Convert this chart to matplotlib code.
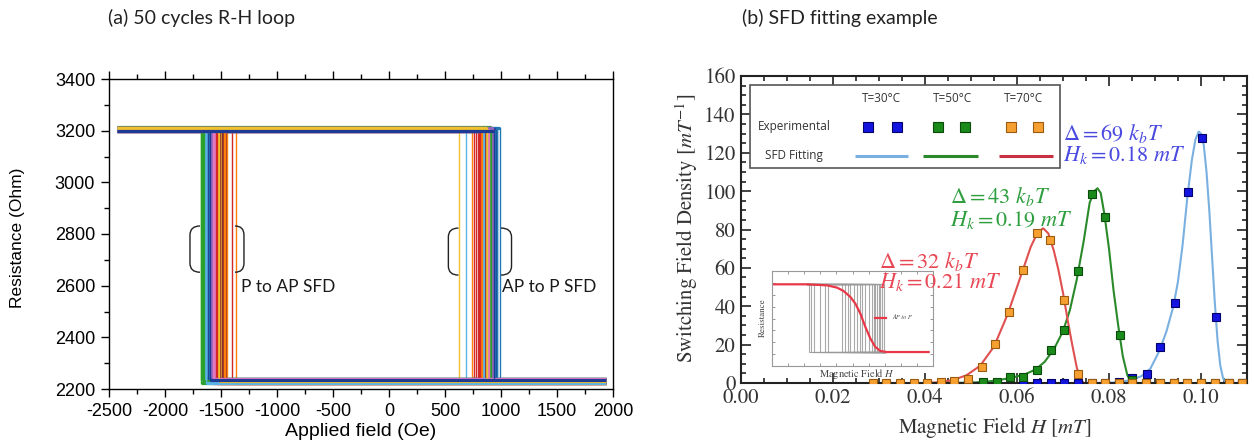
import numpy as np
import matplotlib
matplotlib.use('Agg')
import matplotlib.pyplot as plt
from matplotlib.path import Path
from matplotlib.patches import PathPatch, Rectangle
from matplotlib.ticker import MultipleLocator, FormatStrFormatter

plt.rcParams['mathtext.fontset'] = 'stix'
plt.rcParams['axes.unicode_minus'] = False

# ---------------- (a) R-H loop data (50 cycles) ----------------
neg_switch = [-1612, -1366, -1668, -1402, -1583, -1455, -1540, -1625, -1510, -1598,
              -1640, -1470, -1683, -1560, -1605, -1490, -1575, -1650, -1530, -1620,
              -1595, -1445, -1662, -1520, -1590, -1480, -1550, -1635, -1500, -1610,
              -1602, -1460, -1675, -1545, -1585, -1495, -1565, -1645, -1525, -1615,
              -1608, -1475, -1655, -1535, -1580, -1505, -1570, -1630, -1515, -1600]
pos_switch = [995, 740, 905, 762, 930, 870, 885, 690, 621, 955,
              960, 800, 915, 780, 940, 860, 895, 835, 925, 850,
              945, 815, 910, 795, 935, 865, 890, 845, 880, 950,
              965, 825, 900, 805, 920, 875, 888, 840, 870, 948,
              942, 830, 912, 812, 928, 858, 892, 848, 878, 938]
r_high = [3209, 3202, 3211, 3199, 3206, 3212, 3203, 3210, 3198, 3206,
          3208, 3201, 3213, 3204, 3197, 3207, 3210, 3202, 3205, 3211,
          3199, 3209, 3203, 3212, 3198, 3208, 3206, 3201, 3210, 3204,
          3211, 3202, 3207, 3197, 3209, 3205, 3200, 3212, 3203, 3208,
          3199, 3210, 3206, 3201, 3211, 3204, 3202, 3207, 3209, 3200]
r_low = [2231, 2224, 2236, 2227, 2233, 2238, 2226, 2232, 2223, 2230,
         2234, 2228, 2237, 2225, 2231, 2235, 2222, 2229, 2236, 2227,
         2233, 2224, 2238, 2230, 2226, 2234, 2228, 2232, 2223, 2237,
         2229, 2235, 2225, 2231, 2227, 2236, 2224, 2233, 2230, 2226,
         2238, 2228, 2232, 2225, 2234, 2229, 2237, 2223, 2231, 2235]
field_min, field_max = -2430, 1935
loop_colors = ['#1f77b4', '#ff7f0e', '#2ca02c', '#d62728', '#9467bd',
               '#8c2d2d', '#e377c2', '#5ab4e6', '#f2c12e', '#1f3a93']

# ---------------- (b) SFD data ----------------
b30_x = [0.0614, 0.0643, 0.0674, 0.0703, 0.0732, 0.0762, 0.0791, 0.0822, 0.0851,
         0.0882, 0.0911, 0.0943, 0.0971, 0.1003, 0.1032, 0.1060, 0.1089]
b30_y = [0, 0, 0, 0, 0, 0, 0, 0.5, 2.4, 4.7, 18.9, 41.5, 99.7, 127.5, 34.2, 0, 0]
g50_x = [0.0494, 0.0525, 0.0556, 0.0585, 0.0614, 0.0643, 0.0674, 0.0703, 0.0732,
         0.0762, 0.0791, 0.0824, 0.0851, 0.0881, 0.0911, 0.0941, 0.0970, 0.1000,
         0.1030, 0.1060, 0.1089]
g50_y = [0, 0.7, 0.7, 3.0, 3.3, 6.8, 17.2, 27.6, 58.5, 98.3, 86.7, 25.0, 1.5,
         0, 0, 0, 0, 0, 0, 0, 0]
o70_x = [0.0287, 0.0316, 0.0346, 0.0376, 0.0405, 0.0435, 0.0464, 0.0494, 0.0523,
         0.0552, 0.0583, 0.0612, 0.0644, 0.0672, 0.0703, 0.0733, 0.0763, 0.0792,
         0.0822, 0.0851, 0.0881, 0.0911, 0.0941, 0.0970, 0.1000, 0.1030, 0.1060,
         0.1089]
o70_y = [0, 0, 0, 0, 0.1, 0.3, 0.8, 1.9, 8.2, 20.3, 37.2, 58.9, 78.0, 74.5, 43.2,
         4.7, 0, 0, 0, 0, 0, 0, 0, 0, 0, 0, 0, 0]

fit30_x = [0.0780, 0.0810, 0.0830, 0.0850, 0.0870, 0.0890, 0.0910, 0.0925, 0.0940,
           0.0950, 0.0960, 0.0970, 0.0980, 0.0988, 0.0995, 0.1000, 0.1006, 0.1012,
           0.1018, 0.1024, 0.1030, 0.1036, 0.1042, 0.1048, 0.1053, 0.1060, 0.1100]
fit30_y = [0, 0.2, 0.7, 1.8, 3.5, 7.5, 17, 27, 40, 53, 72, 96, 116, 127, 131, 130,
           124, 110, 90, 66, 42, 22, 9, 2.5, 0.3, 0, 0]
fit50_x = [0.045, 0.050, 0.053, 0.056, 0.059, 0.062, 0.064, 0.066, 0.068, 0.070,
           0.0715, 0.073, 0.0745, 0.0758, 0.0768, 0.0775, 0.0782, 0.079, 0.080,
           0.081, 0.082, 0.083, 0.084, 0.0848, 0.0855, 0.090]
fit50_y = [0, 0.2, 0.6, 1.5, 2.8, 4.8, 7, 11, 17.5, 27, 38, 54, 74, 94, 100, 101.5,
           99, 88, 70, 48, 30, 14, 4, 0.6, 0, 0]
fit70_x = [0.040, 0.043, 0.046, 0.049, 0.052, 0.055, 0.058, 0.061, 0.063, 0.0645,
           0.0657, 0.0668, 0.068, 0.069, 0.070, 0.071, 0.072, 0.073, 0.0738, 0.0745,
           0.080]
fit70_y = [0, 0.4, 1.5, 4, 9, 19, 36, 57, 71, 78.5, 80.6, 78, 69, 59, 47, 33, 20, 8,
           2, 0, 0]

# inset (arbitrary units)
inset_switch = [2.28, 2.42, 2.59, 3.0, 3.31, 3.46, 4.35, 4.55, 4.7, 4.87, 5.07, 5.28,
                5.45, 5.59, 5.8, 6.0, 6.21, 6.31, 6.42, 6.52, 6.63, 6.73, 6.83, 6.94]
inset_fit_x = [0.1, 2.17, 3.42, 4.04, 4.45, 4.87, 5.18, 5.49, 5.8, 6.11, 6.42, 6.73,
               7.14, 9.73]
inset_fit_y = [0.86, 0.86, 0.849, 0.825, 0.789, 0.726, 0.656, 0.551, 0.411, 0.288,
               0.2, 0.158, 0.147, 0.147]

W, H = 1254, 446
fig = plt.figure(figsize=(W / 100, H / 100), dpi=100)


def fx(px):
    return px / W


def fy(py):
    return 1 - py / H


SANS = ['Liberation Sans', 'DejaVu Sans']
CAL = ['Lato', 'DejaVu Sans']
SERIF = ['STIXGeneral', 'DejaVu Serif']

# ======================= panel (a) =======================
ax1 = fig.add_axes([fx(109), fy(389), (613 - 109) / W, (389 - 79) / H])
for i in range(len(neg_switch)):
    c = loop_colors[i % len(loop_colors)]
    # vertical switching steps (thin)
    ax1.plot([neg_switch[i], neg_switch[i]], [r_low[i], r_high[i]], color=c, lw=1.0)
    ax1.plot([pos_switch[i], pos_switch[i]], [r_high[i], r_low[i]], color=c, lw=1.0)
    # noisy plateaus (thick band)
    ax1.plot([field_min, pos_switch[i]], [r_high[i], r_high[i]], color=c, lw=2.3,
             solid_capstyle='butt')
    ax1.plot([neg_switch[i], field_max], [r_low[i], r_low[i]], color=c, lw=2.3,
             solid_capstyle='butt')

ax1.set_xlim(-2500, 2000)
ax1.set_ylim(2200, 3400)
ax1.xaxis.set_major_locator(MultipleLocator(500))
ax1.xaxis.set_minor_locator(MultipleLocator(250))
ax1.yaxis.set_major_locator(MultipleLocator(200))
ax1.yaxis.set_minor_locator(MultipleLocator(100))
ax1.tick_params(which='both', direction='out', top=True, right=False,
                labeltop=False, width=1.0)
ax1.tick_params(which='major', length=6, pad=4, labelsize=13)
ax1.tick_params(which='minor', length=3.5)
for lab in ax1.get_xticklabels() + ax1.get_yticklabels():
    lab.set_family(SANS)
for s in ax1.spines.values():
    s.set_linewidth(1.0)


def bracket(ax, x_open, x_back, y_bot, y_top, ry):
    verts = [(x_open, y_top), (x_back, y_top), (x_back, y_top - ry),
             (x_back, y_bot + ry), (x_back, y_bot), (x_open, y_bot)]
    codes = [Path.MOVETO, Path.CURVE3, Path.CURVE3, Path.LINETO,
             Path.CURVE3, Path.CURVE3]
    ax.add_patch(PathPatch(Path(verts, codes), fill=False, lw=1.0,
                           edgecolor='#222222', zorder=5))


bracket(ax1, -1687, -1777, 2652, 2831, 35)
bracket(ax1, -1375, -1295, 2652, 2831, 35)
bracket(ax1, 620, 530, 2641, 2823, 35)
bracket(ax1, 1000, 1094, 2641, 2823, 35)

ax1.text(-1320, 2595, 'P to AP SFD', family=CAL, fontsize=12.5,
         ha='left', va='center', color='#1a1a1a')
ax1.text(1005, 2595, 'AP to P SFD', family=CAL, fontsize=12.5,
         ha='left', va='center', color='#1a1a1a')

fig.text(fx(18), fy(238), 'Resistance (Ohm)', rotation=90, ha='center',
         va='center', family=SANS, fontsize=12.5)
fig.text(fx(361), fy(431), 'Applied field (Oe)', ha='center', va='center',
         family=SANS, fontsize=14)
fig.text(fx(108), fy(18), '(a) 50 cycles R-H loop', ha='left', va='center',
         family=CAL, fontsize=14, color='#222222')
fig.text(fx(742), fy(18), '(b) SFD fitting example', ha='left', va='center',
         family=CAL, fontsize=14, color='#222222')

# ======================= panel (b) =======================
ax2 = fig.add_axes([fx(741), fy(383), (1247 - 741) / W, (383 - 76) / H])
ax2.set_zorder(2)
ax2.patch.set_alpha(0)
c_b_fit, c_g_fit, c_r_fit = '#7ab0e0', '#2a8a2a', '#e05050'
ax2.plot(fit30_x, fit30_y, color=c_b_fit, lw=1.5, zorder=2)
ax2.plot(fit50_x, fit50_y, color=c_g_fit, lw=1.5, zorder=2)
ax2.plot(fit70_x, fit70_y, color=c_r_fit, lw=1.5, zorder=2)
mk = dict(marker='s', ms=6, ls='none', mew=0.8, zorder=3)
ax2.plot(b30_x, b30_y, mfc='#1414e0', mec='#00006a', **mk)
ax2.plot(g50_x, g50_y, mfc='#1a8a1a', mec='#0a4a0a', **mk)
ax2.plot(o70_x, o70_y, mfc='#f5a030', mec='#9a5a10', **mk)

ax2.set_xlim(0, 0.11)
ax2.set_ylim(0, 160)
ax2.xaxis.set_major_locator(MultipleLocator(0.02))
ax2.xaxis.set_minor_locator(MultipleLocator(0.005))
ax2.yaxis.set_major_locator(MultipleLocator(20))
ax2.yaxis.set_minor_locator(MultipleLocator(5))
ax2.xaxis.set_major_formatter(FormatStrFormatter('%.2f'))
ax2.tick_params(which='both', direction='in', top=True, right=True, width=1.2,
                colors='#222222', labelcolor='#333333')
ax2.tick_params(which='major', length=7, pad=4, labelsize=15)
ax2.tick_params(which='minor', length=3.5)
for lab in ax2.get_xticklabels() + ax2.get_yticklabels():
    lab.set_family(SERIF)
for s in ax2.spines.values():
    s.set_linewidth(1.5)
    s.set_color('#222222')

ann = dict(fontsize=16, ha='left', va='center', family=SERIF, zorder=6)
ax2.text(0.0701, 130, r'$\Delta = 69\ k_bT$', color='#4a4ae0', **ann)
ax2.text(0.0701, 118.8, r'$H_k = 0.18\ mT$', color='#4a4ae0', **ann)
ax2.text(0.0454, 97, r'$\Delta = 43\ k_bT$', color='#2e9e3e', **ann)
ax2.text(0.0454, 85, r'$H_k = 0.19\ mT$', color='#2e9e3e', **ann)
ax2.text(0.0301, 63.2, r'$\Delta = 32\ k_bT$', color='#e84855', **ann)
ax2.text(0.0301, 52.8, r'$H_k = 0.21\ mT$', color='#e84855', **ann)

# manual legend box
T = ax2.transAxes
ax2.add_patch(Rectangle((0.018, 0.699), 0.612, 0.272, transform=T, fc='white',
                        ec='#555555', lw=1.2, zorder=5))
lg = dict(transform=T, fontsize=8.5, family=['Open Sans', 'DejaVu Sans'],
          color='#333333', zorder=6, va='center')
for xx, tt in [(0.277, 'T=30°C'), (0.417, 'T=50°C'), (0.559, 'T=70°C')]:
    ax2.text(xx, 0.927, tt, ha='center', **lg)
ax2.text(0.033, 0.835, 'Experimental', ha='left', **lg)
ax2.text(0.048, 0.740, 'SFD Fitting', ha='left', **lg)
lm = dict(marker='s', ms=7, ls='none', mew=0.8, transform=T, zorder=6,
          clip_on=False)
ax2.plot([0.250, 0.308], [0.835, 0.835], mfc='#1414e0', mec='#00006a', **lm)
ax2.plot([0.389, 0.442], [0.835, 0.835], mfc='#1a8a1a', mec='#0a4a0a', **lm)
ax2.plot([0.533, 0.587], [0.835, 0.835], mfc='#f5a030', mec='#9a5a10', **lm)
ll = dict(transform=T, zorder=6, lw=2.2, solid_capstyle='butt')
ax2.plot([0.225, 0.331], [0.740, 0.740], color=c_b_fit, **ll)
ax2.plot([0.360, 0.468], [0.740, 0.740], color=c_g_fit, **ll)
ax2.plot([0.510, 0.616], [0.740, 0.740], color='#c83040', **ll)

fig.text(fx(687), fy(228), r'Switching Field Density [$mT^{-1}$]', rotation=90,
         ha='center', va='center', family=SERIF, fontsize=15, color='#333333')
fig.text(fx(995), fy(427), r'Magnetic Field $H$ [$mT$]', ha='center',
         va='center', family=SERIF, fontsize=15, color='#333333')

# inset (drawn beneath the main panel's texts)
axi = fig.add_axes([fx(772), fy(366), (933 - 772) / W, (366 - 271) / H])
axi.set_zorder(1)
axi.set_facecolor('white')
hi_lvl, lo_lvl = 0.86, 0.147
for s_ in inset_switch:
    axi.plot([2.2, s_, s_, 7.0], [hi_lvl, hi_lvl, lo_lvl, lo_lvl],
             color='#9a9a9a', lw=0.8, alpha=0.85)
axi.plot(inset_fit_x, inset_fit_y, color='#e83848', lw=1.6)
axi.plot([0.64, 0.71], [0.51, 0.51], transform=axi.transAxes, color='#e83848',
         lw=1.6)
axi.text(0.745, 0.51, 'AP to P', transform=axi.transAxes, fontsize=4.5,
         family=SERIF, style='italic', va='center', color='#444444')
axi.set_xlim(0, 10)
axi.set_ylim(0, 1)
axi.xaxis.set_major_locator(MultipleLocator(1))
axi.yaxis.set_major_locator(MultipleLocator(0.125))
axi.tick_params(which='both', direction='in', top=True, right=True,
                length=2, width=0.6, colors='#888888',
                labelbottom=False, labelleft=False)
for s in axi.spines.values():
    s.set_linewidth(0.8)
    s.set_color('#999999')
fig.text(fx(763), fy(318), 'Resistance', rotation=90, ha='center', va='center',
         family=SERIF, fontsize=6.5, color='#444444')
fig.text(fx(857), fy(374), r'Magnetic Field $H$', ha='center', va='center',
         family=SERIF, fontsize=7.5, color='#444444')

fig.savefig('out.png', dpi=100)
